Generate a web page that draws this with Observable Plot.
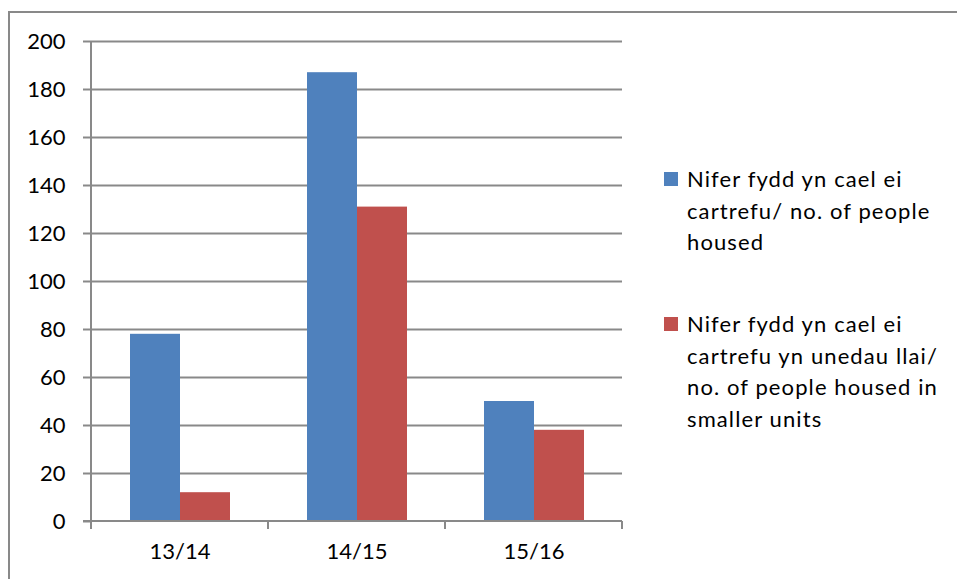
<!DOCTYPE html>
<html>
<head>
<meta charset="utf-8">
<script src="https://cdn.jsdelivr.net/npm/d3@7"></script>
<script src="https://cdn.jsdelivr.net/npm/@observablehq/plot@0.6"></script>
<style>
  html, body { margin: 0; padding: 0; background: #fff; }
  #wrap { position: relative; width: 957px; height: 579px; overflow: hidden; }
  #border { position: absolute; left: 8px; top: 11px; right: -5px; bottom: -5px;
            border-top: 2px solid #898989; border-left: 2px solid #898989; }
  #chart { position: absolute; left: 0; top: 0; }
</style>
</head>
<body>
<div id="wrap"><div id="border"></div><div id="chart"></div></div>
<script>
const categories = ["13/14", "14/15", "15/16"];
const seriesNames = [
  "Nifer fydd yn cael ei cartrefu/ no. of people housed",
  "Nifer fydd yn cael ei cartrefu yn unedau llai/ no. of people housed in smaller units"
];
const seriesLines = [
  ["Nifer fydd yn cael ei", "cartrefu/ no. of people", "housed"],
  ["Nifer fydd yn cael ei", "cartrefu yn unedau llai/", "no. of people housed in", "smaller units"]
];
const housed = [78, 187, 50];
const housedSmaller = [12, 131, 38];
const yTicks = [0, 20, 40, 60, 80, 100, 120, 140, 160, 180, 200];
const colors = ["#4F81BD", "#C0504D"];

const data = [];
categories.forEach((c, i) => {
  data.push({cat: c, series: seriesNames[0], value: housed[i]});
  data.push({cat: c, series: seriesNames[1], value: housedSmaller[i]});
});

const FONT = "Lato, 'Open Sans', sans-serif";
const grid = "#898989";

const chart = Plot.plot({
  width: 957,
  height: 579,
  marginLeft: 90,
  marginRight: 334,
  marginTop: 41,
  marginBottom: 58,
  style: {fontFamily: FONT, fontSize: "22px", color: "#000", background: "transparent", overflow: "visible"},
  fx: {domain: categories, padding: 0, label: null},
  x: {domain: seriesNames, paddingInner: 0, paddingOuter: 0.76, axis: null},
  y: {domain: [0, 200], ticks: yTicks, label: null},
  color: {domain: seriesNames, range: colors},
  marks: [
    Plot.ruleY(yTicks.filter(d => d > 0), {stroke: grid, strokeWidth: 2, facet: "exclude", facetAnchor: null}),
    Plot.barY(data, {fx: "cat", x: "series", y: "value", fill: "series"}),
    Plot.axisY({ticks: yTicks, tickSize: 8, tickPadding: 18, stroke: grid, strokeWidth: 2, label: null, fontSize: 22, tickFormat: d => String(d), anchor: "left"}),
    Plot.axisFx({anchor: "bottom", tickSize: 0, tickPadding: 22, label: null, fontSize: 22})
  ]
});
document.getElementById("chart").appendChild(chart);

const svg = d3.select(chart);
const fx = chart.scale("fx");
const y = chart.scale("y");
const y0 = y.apply(0), yTop = y.apply(200);
const xLeft = fx.apply(categories[0]);
const xRight = fx.apply(categories[categories.length - 1]) + fx.bandwidth;

// y axis line
svg.append("line").attr("x1", xLeft).attr("x2", xLeft).attr("y1", yTop).attr("y2", y0 + 8)
  .attr("stroke", grid).attr("stroke-width", 2);
// x axis line
svg.append("line").attr("x1", xLeft - 8).attr("x2", xRight).attr("y1", y0).attr("y2", y0)
  .attr("stroke", grid).attr("stroke-width", 2);
// category boundary ticks
const bounds = categories.map(c => fx.apply(c)).concat([xRight]);
svg.selectAll(null).data(bounds).join("line")
  .attr("x1", d => d).attr("x2", d => d).attr("y1", y0).attr("y2", y0 + 8)
  .attr("stroke", grid).attr("stroke-width", 2);

// legend
const lg = svg.append("g").attr("font-family", FONT).attr("font-size", 22)
  .attr("fill", "#000").attr("text-anchor", "start").attr("letter-spacing", "1.1px");
const legendTop = [187, 332];
seriesLines.forEach((lines, i) => {
  lg.append("rect").attr("x", 664).attr("y", legendTop[i] - 15).attr("width", 14).attr("height", 14).attr("fill", colors[i]);
  lines.forEach((t, j) => {
    lg.append("text").attr("x", 687).attr("y", legendTop[i] + j * 31.5).text(t);
  });
});
</script>
</body>
</html>
